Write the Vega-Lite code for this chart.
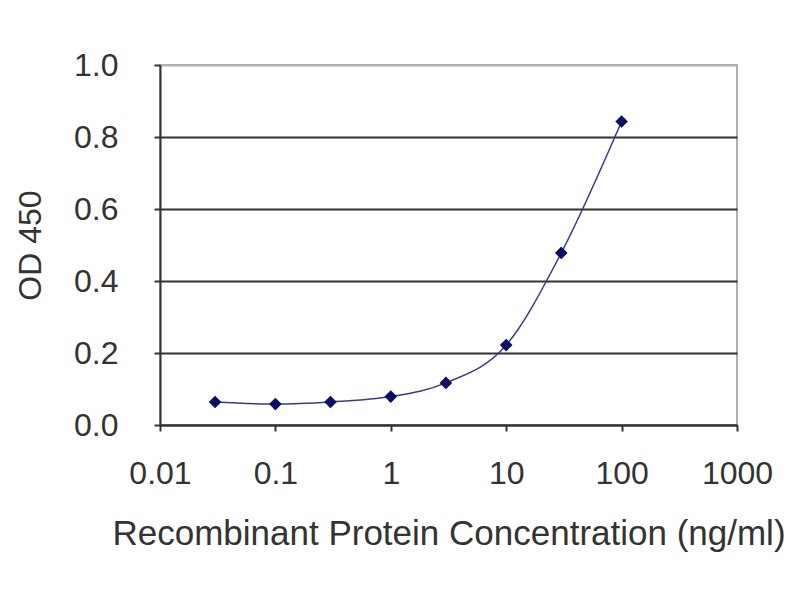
{
  "$schema": "https://vega.github.io/schema/vega-lite/v6.json",
  "autosize": "none",
  "width": 577,
  "height": 360,
  "padding": {"left": 160, "top": 65, "right": 63, "bottom": 175},
  "background": "white",
  "config": {
    "font": "Liberation Sans",
    "view": {"stroke": "#b0b0b0", "strokeWidth": 2}
  },
  "data": {
    "values": [
      {"conc": 0.03, "od": 0.064},
      {"conc": 0.1, "od": 0.058},
      {"conc": 0.3, "od": 0.064},
      {"conc": 1, "od": 0.079},
      {"conc": 3, "od": 0.117},
      {"conc": 10, "od": 0.222},
      {"conc": 30, "od": 0.478},
      {"conc": 100, "od": 0.843}
    ]
  },
  "encoding": {
    "x": {
      "field": "conc",
      "type": "quantitative",
      "title": "Recombinant Protein Concentration (ng/ml)",
      "scale": {"type": "log", "domain": [0.01, 1000], "nice": false},
      "axis": {
        "values": [0.01, 0.1, 1, 10, 100, 1000],
        "format": "~g",
        "grid": false,
        "labelFlush": false,
        "labelOverlap": false,
        "domainColor": "#333333",
        "domainWidth": 2,
        "tickColor": "#333333",
        "tickWidth": 2,
        "tickSize": 6,
        "labelPadding": 27,
        "labelFontSize": 32,
        "labelColor": "#333333",
        "titleFontSize": 35,
        "titleFontWeight": "normal",
        "titleColor": "#333333",
        "titleBaseline": "middle",
        "titleY": 108
      }
    },
    "y": {
      "field": "od",
      "type": "quantitative",
      "title": "OD 450",
      "scale": {"domain": [0, 1], "nice": false},
      "axis": {
        "values": [0, 0.2, 0.4, 0.6, 0.8, 1.0],
        "format": ".1f",
        "grid": true,
        "gridColor": {"condition": {"test": "datum.value >= 1", "value": "#b0b0b0"}, "value": "#333333"},
        "gridWidth": 2,
        "domainColor": "#333333",
        "domainWidth": 2,
        "tickColor": "#333333",
        "tickWidth": 2,
        "tickSize": 6,
        "labelPadding": 36,
        "labelFontSize": 32,
        "labelColor": "#333333",
        "titleFontSize": 32,
        "titleFontWeight": "normal",
        "titleColor": "#333333",
        "titleX": -130,
        "titleY": 180,
        "titleBaseline": "middle"
      }
    }
  },
  "layer": [
    {
      "mark": {"type": "line", "interpolate": "monotone", "color": "#3a3a8c", "strokeWidth": 1.5}
    },
    {
      "mark": {"type": "point", "shape": "diamond", "filled": true, "size": 160, "color": "#0d0d66", "opacity": 1}
    }
  ]
}
